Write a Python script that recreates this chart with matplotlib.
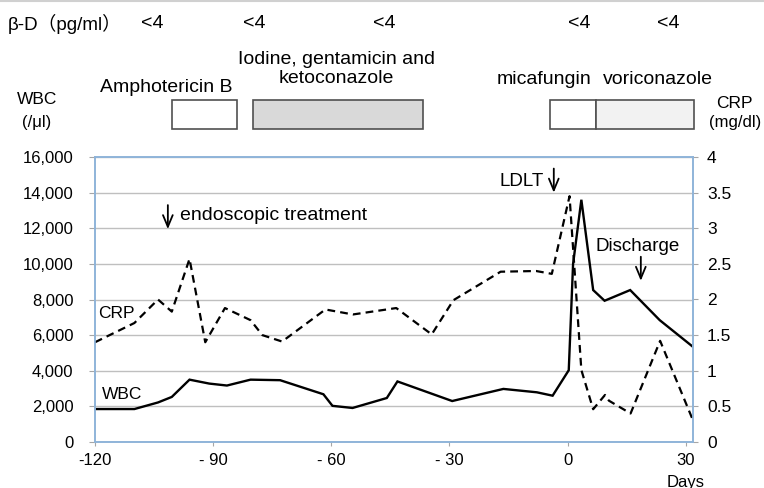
import matplotlib
matplotlib.use('Agg')
import matplotlib.pyplot as plt
from matplotlib.patches import Rectangle
from matplotlib.lines import Line2D
from matplotlib.ticker import FuncFormatter, MultipleLocator
from matplotlib.transforms import blended_transform_factory

plt.rcParams['font.family'] = ['Liberation Sans', 'Noto Sans CJK JP', 'DejaVu Sans']

# WBC (/ul), solid line
wbc_days = [-120, -110, -104, -100.5, -96, -91, -86.5, -80.5, -73, -62, -59.7, -54.6,
            -45.9, -43.2, -29.3, -16.3, -7.8, -3.8, 0.3, 1.4, 3.5, 6.5, 9.4, 15.9, 23.4, 31.8]
wbc = [1850, 1850, 2220, 2530, 3500, 3280, 3170, 3500, 3470, 2680, 2030, 1910,
       2470, 3400, 2300, 2980, 2790, 2600, 4030, 10000, 13600, 8530, 7930, 8530, 6840, 5350]

# CRP (mg/dl), dashed line
crp_days = [-120, -110, -104, -100.5, -96, -92, -87, -80.5, -77.5, -72.5, -61.5, -54.5, -43.5,
            -34.5, -29, -17, -8, -4, 0.5, 3.5, 6.5, 9.5, 10.5, 16, 23.5, 31.8]
crp = [1.4, 1.67, 2.0, 1.83, 2.57, 1.4, 1.88, 1.71, 1.5, 1.41, 1.86, 1.79, 1.88,
       1.51, 1.99, 2.39, 2.40, 2.36, 3.45, 1.01, 0.46, 0.66, 0.58, 0.40, 1.42, 0.31]

x_ticks = [-120, -90, -60, -30, 0, 30]
x_labels = ['-120', '- 90', '- 60', '- 30', '0', '30']

# beta-D glucan measurements
bd_days = [-105.5, -79.5, -46.5, 3, 25.5]
bd_vals = ['<4', '<4', '<4', '<4', '<4']

# treatments
drugs = ['Amphotericin B', 'Iodine, gentamicin and\nketoconazole', 'micafungin', 'voriconazole']
drug_start = [-100.5, -80, -4.5, 7.2]
drug_end = [-84, -36.7, 7.2, 32]
drug_fill = ['white', '#d9d9d9', 'white', '#f2f2f2']

W, H = 764, 488
fig = plt.figure(figsize=(W / 100, H / 100), dpi=100)
ax = fig.add_axes([95 / W, 46 / H, 598 / W, 285 / H])
ax2 = ax.twinx()

ax.plot(wbc_days, wbc, color='black', lw=1.7, solid_joinstyle='miter')
ax2.plot(crp_days, crp, color='black', lw=1.6, linestyle=(0, (3.5, 2.3)))

ax.set_xlim(-120, 31.85)
ax.set_ylim(0, 16000)
ax2.set_ylim(0, 4)
ax.yaxis.set_major_locator(MultipleLocator(2000))
ax.yaxis.set_major_formatter(FuncFormatter(lambda v, p: f'{int(v):,}'))
ax2.yaxis.set_major_locator(MultipleLocator(0.5))
ax2.yaxis.set_major_formatter(FuncFormatter(lambda v, p: f'{v:g}'))
ax.set_xticks(x_ticks)
ax.set_xticklabels(x_labels)
ax.grid(axis='y', color='#bfbfbf', lw=1)
ax.set_axisbelow(True)

spine_c = '#8fb4d9'
for a in (ax, ax2):
    for s in a.spines.values():
        s.set_color(spine_c)
        s.set_linewidth(1.2)
ax.tick_params(axis='y', direction='out', length=4.5, color='#a6a6a6', labelsize=12, pad=11)
ax2.tick_params(axis='y', direction='out', length=3.5, color='#a6a6a6', labelsize=12.5, pad=6.5)
ax.tick_params(axis='x', direction='out', length=3, color='#a6a6a6', labelsize=12, pad=5)

arrow = dict(arrowstyle='->,head_length=0.6,head_width=0.25', lw=1.3, color='black',
             mutation_scale=14, shrinkA=0, shrinkB=0)

# annotations inside the plot
ax.text(-98.4, 12690, 'endoscopic treatment', fontsize=14, va='center', ha='left')
ax.annotate('', xy=(-101.5, 11950), xytext=(-101.5, 13300), arrowprops=arrow)
ax.text(-6.0, 14600, 'LDLT', fontsize=13.5, va='center', ha='right')
ax.annotate('', xy=(-3.5, 14000), xytext=(-3.5, 15350), arrowprops=arrow)
ax.text(17.7, 10950, 'Discharge', fontsize=13.5, va='center', ha='center')
ax.annotate('', xy=(18.6, 9050), xytext=(18.6, 10400), arrowprops=arrow)
ax.text(-119.2, 7240, 'CRP', fontsize=12.5, va='center', ha='left')
ax.text(-118.2, 2640, 'WBC', fontsize=12.5, va='center', ha='left')
fig.text(686 / W, 1 - 482 / H, 'Days', fontsize=12, ha='center', va='center')

# header above the plot
tr = blended_transform_factory(ax.transData, fig.transFigure)
fig.text(8 / W, 1 - 24 / H, 'β-D（pg/ml）', fontsize=13.5, ha='left', va='center')
for d, v in zip(bd_days, bd_vals):
    fig.text(d, 1 - 24 / H, v, transform=tr, fontsize=14, ha='center', va='center')

for s, e, f in zip(drug_start, drug_end, drug_fill):
    fig.patches.append(Rectangle((s, 1 - 129 / H), e - s, 29 / H, transform=tr,
                                 facecolor=f, edgecolor='#505050', lw=1.2))
label_pos = [(-102, 87), (-58.8, 69), (-6, 80), (23, 80)]
for name, (x, y) in zip(drugs, label_pos):
    fig.text(x, 1 - y / H, name, transform=tr, fontsize=14, ha='center', va='center',
             linespacing=1.15)

fig.text(37 / W, 1 - 100 / H, 'WBC', fontsize=12.5, ha='center', va='center')
fig.text(37 / W, 1 - 122 / H, '(/μl)', fontsize=12, ha='center', va='center')
fig.text(734 / W, 1 - 103 / H, 'CRP', fontsize=12.5, ha='center', va='center')
fig.text(735 / W, 1 - 122 / H, '(mg/dl)', fontsize=12, ha='center', va='center')

fig.lines.append(Line2D([0, 1], [1 - 0.5 / H, 1 - 0.5 / H], transform=fig.transFigure,
                        color='#d0d0d0', lw=1.5))

fig.savefig('out.png', dpi=100)
